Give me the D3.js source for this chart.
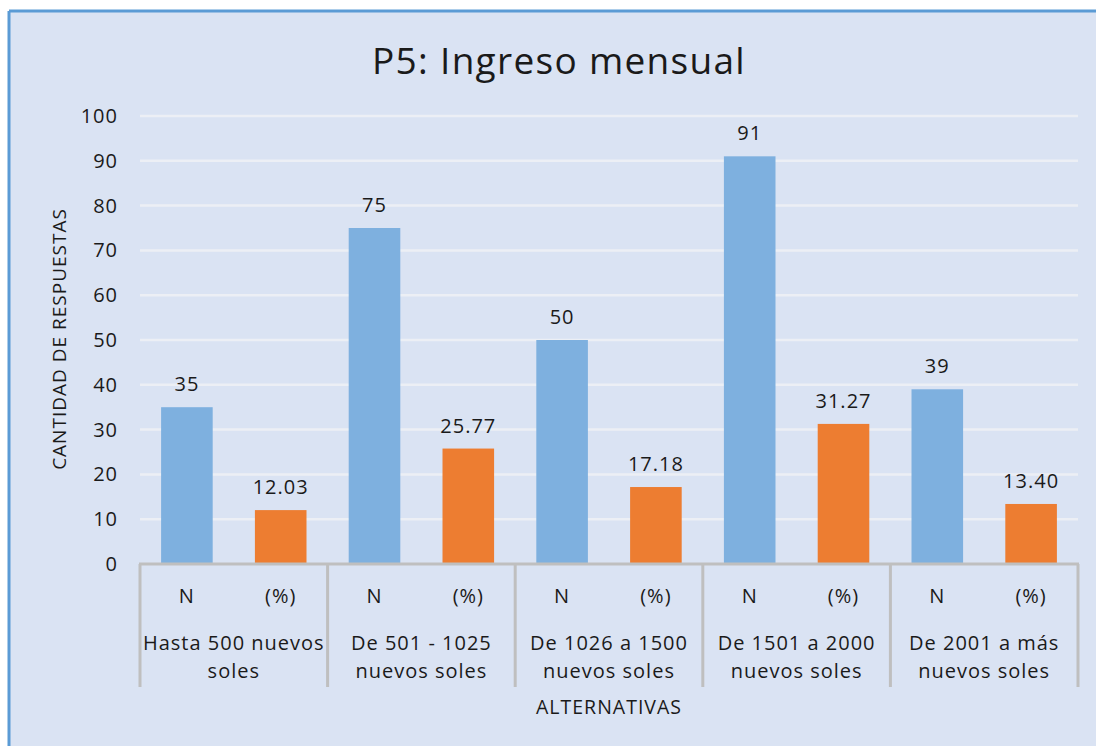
<!DOCTYPE html>
<html>
<head>
<meta charset="utf-8">
<script src="https://cdn.jsdelivr.net/npm/d3@7"></script>
<style>
  body { margin: 0; background: #fff; }
  text { font-family: "Open Sans", Lato, sans-serif; fill: #1a1a1a; letter-spacing: 1px; }
</style>
</head>
<body>
<script>
var groups = ["Hasta 500 nuevos|soles", "De 501 - 1025|nuevos soles", "De 1026 a 1500|nuevos soles", "De 1501 a 2000|nuevos soles", "De 2001 a más|nuevos soles"];
var subs = ["N", "(%)"];
var valuesN = [35, 75, 50, 91, 39];
var valuesPct = [12.03, 25.77, 17.18, 31.27, 13.40];
var yTicks = [0, 10, 20, 30, 40, 50, 60, 70, 80, 90, 100];

var W = 1096, H = 746;
var svg = d3.select("body").append("svg").attr("width", W).attr("height", H);

// background panel with blue edge
svg.append("rect").attr("x", 9).attr("y", 11).attr("width", W).attr("height", H)
  .attr("fill", "#dae3f3");
svg.append("line").attr("x1", 9).attr("x2", W).attr("y1", 11).attr("y2", 11)
  .attr("stroke", "#5b9bd5").attr("stroke-width", 3);
svg.append("line").attr("x1", 9).attr("x2", 9).attr("y1", 11).attr("y2", H)
  .attr("stroke", "#5b9bd5").attr("stroke-width", 3);

var plotL = 140, plotR = 1078, plotT = 116, plotB = 564;

var x0 = d3.scaleBand().domain(d3.range(groups.length)).range([plotL, plotR]);
var x1 = d3.scaleBand().domain(subs).range([0, x0.bandwidth()]).paddingInner(0.45).paddingOuter(0.225);
var y = d3.scaleLinear().domain([0, 100]).range([plotB, plotT]);

// title
svg.append("text").attr("x", 559).attr("y", 74).attr("text-anchor", "middle")
  .style("font-size", "37px").style("letter-spacing", "1.3px").text("P5: Ingreso mensual");

// gridlines
svg.append("g").selectAll("line").data(yTicks.slice(1)).enter().append("line")
  .attr("x1", plotL).attr("x2", plotR)
  .attr("y1", function (d) { return y(d); }).attr("y2", function (d) { return y(d); })
  .attr("stroke", "#eceff5").attr("stroke-width", 2.5);

// y axis labels
var yAxis = svg.append("g").attr("transform", "translate(" + plotL + ",0)")
  .call(d3.axisLeft(y).tickValues(yTicks).tickSize(0).tickPadding(22));
yAxis.select(".domain").remove();
yAxis.selectAll("text").style("font-size", "20px").style("font-family", "'Open Sans', sans-serif").attr("fill", "#1a1a1a");

// y title
svg.append("text").attr("transform", "translate(66,339) rotate(-90)")
  .attr("text-anchor", "middle").style("font-size", "19px").text("CANTIDAD DE RESPUESTAS");

// bars
var rows = [];
groups.forEach(function (g, i) {
  rows.push({ g: i, s: "N", v: valuesN[i], label: String(valuesN[i]), color: "#7eb0df" });
  rows.push({ g: i, s: "(%)", v: valuesPct[i], label: valuesPct[i].toFixed(2), color: "#ed7d31" });
});

svg.append("g").selectAll("rect").data(rows).enter().append("rect")
  .attr("x", function (d) { return x0(d.g) + x1(d.s); })
  .attr("width", x1.bandwidth())
  .attr("y", function (d) { return y(d.v); })
  .attr("height", function (d) { return y(0) - y(d.v); })
  .attr("fill", function (d) { return d.color; });

svg.append("g").selectAll("text").data(rows).enter().append("text")
  .attr("x", function (d) { return x0(d.g) + x1(d.s) + x1.bandwidth() / 2; })
  .attr("y", function (d) { return y(d.v) - 16; })
  .attr("text-anchor", "middle").style("font-size", "20px")
  .text(function (d) { return d.label; });

// category axis
var axisCol = "#bfbfbf";
svg.append("line").attr("x1", plotL - 1).attr("x2", plotR + 1).attr("y1", plotB).attr("y2", plotB)
  .attr("stroke", axisCol).attr("stroke-width", 3);
var bounds = d3.range(groups.length + 1).map(function (i) { return plotL + i * x0.bandwidth(); });
svg.append("g").selectAll("line").data(bounds).enter().append("line")
  .attr("x1", function (d) { return d; }).attr("x2", function (d) { return d; })
  .attr("y1", plotB).attr("y2", 687)
  .attr("stroke", axisCol).attr("stroke-width", 3);

var subLab = svg.append("g");
groups.forEach(function (g, i) {
  subs.forEach(function (s) {
    subLab.append("text")
      .attr("x", x0(i) + x1(s) + x1.bandwidth() / 2).attr("y", 603)
      .attr("text-anchor", "middle").style("font-size", "20px").text(s);
  });
  var parts = g.split("|");
  parts.forEach(function (p, j) {
    subLab.append("text")
      .attr("x", x0(i) + x0.bandwidth() / 2).attr("y", 650 + j * 28)
      .attr("text-anchor", "middle").style("font-size", "20px").text(p);
  });
});

svg.append("text").attr("x", 609).attr("y", 714).attr("text-anchor", "middle")
  .style("font-size", "19.5px").text("ALTERNATIVAS");
</script>
</body>
</html>
